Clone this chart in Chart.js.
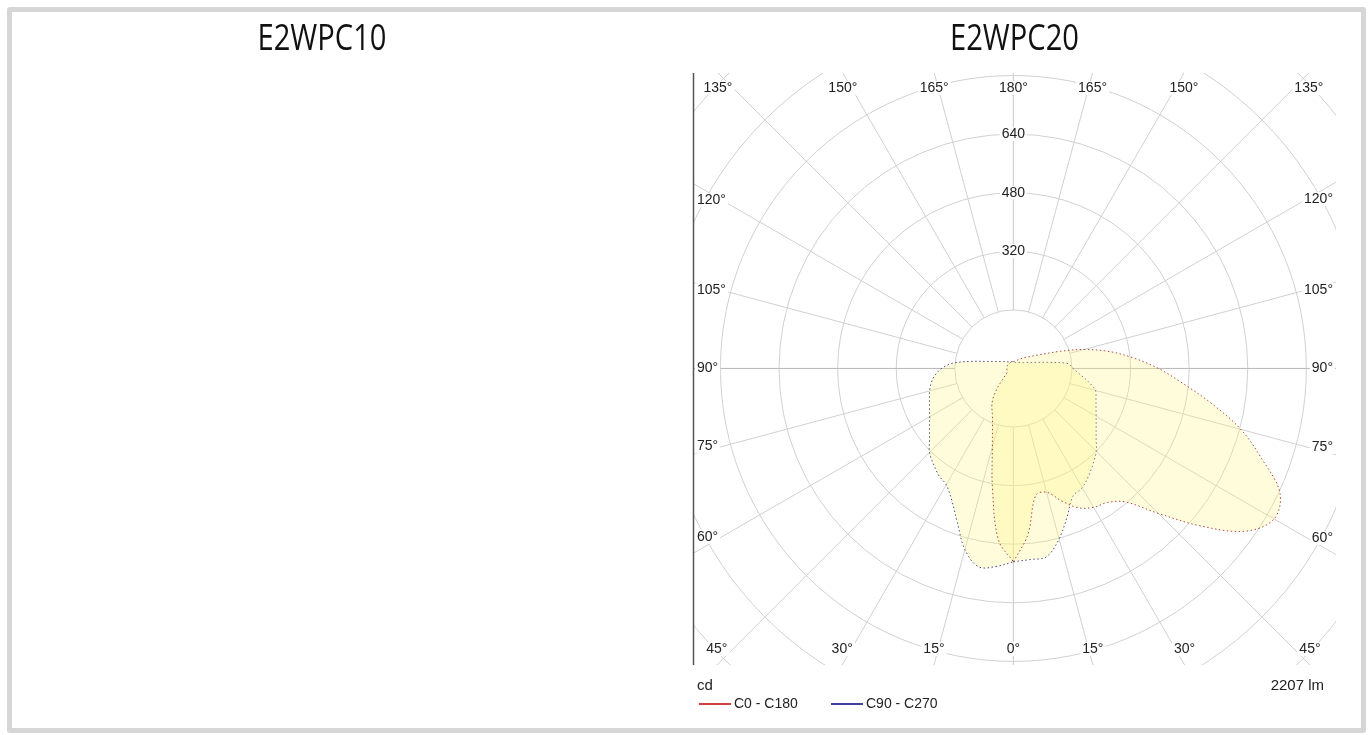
<!DOCTYPE html>
<html>
<head>
<meta charset="utf-8">
<script src="https://cdn.jsdelivr.net/npm/chart.js@4.4.1/dist/chart.umd.min.js"></script>
<style>
html, body { margin: 0; padding: 0; background: #fff; }
#frame { position: absolute; left: 7px; top: 7px; width: 1349px; height: 716px; border: 5px solid #d6d6d6; border-radius: 3px; }
#wrap { position: absolute; left: 0; top: 0; width: 1369px; height: 735px; }
</style>
</head>
<body>
<div id="frame"></div>
<div id="wrap"><canvas id="ldc" width="1369" height="735" style="width:1369px;height:735px"></canvas></div>
<script>
// gamma angle from nadir (deg) and intensity (cd) for each half plane
var GAMMA = [0, 5, 10, 15, 20, 25, 30, 35, 40, 45, 50, 55, 60, 65, 70, 75, 80, 85, 90,
             95, 100, 105, 110, 115, 120, 125, 130, 135, 140, 145, 150, 155, 160, 165, 170, 175, 180];
var C0   = [528, 455, 352, 350, 385, 420, 438, 447, 476, 560, 670, 775, 822, 803, 722, 643, 549, 464, 396,
            329, 266, 200, 138, 95, 72, 57, 48, 42, 36, 31, 28, 25, 23, 21, 20, 19, 19];
var C180 = [528, 470, 330, 222, 167, 136, 118, 95, 65, 40, 28, 22, 19, 18, 18, 18, 18, 18, 18,
            18, 18, 18, 18, 18, 18, 18, 18, 18, 18, 18, 18, 18, 18, 18, 18, 18, 19];
var C90  = [528, 524, 522, 482, 430, 385, 376, 358, 339, 320, 295, 276, 261, 249, 240, 232, 208, 182, 163,
            150, 95, 64, 48, 38, 32, 28, 25, 23, 21, 19, 18, 17, 17, 17, 17, 17, 17];
var C270 = [528, 543, 550, 512, 448, 398, 367, 356, 340, 324, 299, 280, 264, 253, 244, 237, 228, 215, 196,
            166, 112, 74, 56, 45, 38, 33, 29, 27, 24, 22, 21, 20, 20, 19, 19, 19, 17];

var RINGS = [160, 320, 480, 640, 800, 960, 1120];
var RING_LABELS = [320, 480, 640];
var ANGLE_TICKS = [0, 15, 30, 45, 60, 75, 90, 105, 120, 135, 150, 165, 180];
var PLANES = ['C0 - C180', 'C90 - C270'];
var TITLES = ['E2WPC10', 'E2WPC20'];
var UNIT = 'cd';
var FLUX = '2207 lm';

// visible window of the diagram, in cd
var X_MIN = -875, X_MAX = 881, Y_MIN = -810, Y_MAX = 807;

function planePoints(right, left) {
    var pts = [];
    for (var i = 0; i < GAMMA.length; i++) {
        var g = GAMMA[i] * Math.PI / 180;
        pts.push({x: right[i] * Math.sin(g), y: -right[i] * Math.cos(g)});
    }
    for (var j = GAMMA.length - 2; j >= 0; j--) {
        var h = GAMMA[j] * Math.PI / 180;
        pts.push({x: -left[j] * Math.sin(h), y: -left[j] * Math.cos(h)});
    }
    return pts;
}

var LABEL_FONT = '14px "Liberation Sans", Arial, sans-serif';

var polarGrid = {
    id: 'polarGrid',
    beforeDatasetsDraw: function (chart) {
        var c = chart.ctx, a = chart.chartArea;
        var cx = chart.scales.x.getPixelForValue(0), cy = chart.scales.y.getPixelForValue(0);
        var k = chart.scales.x.getPixelForValue(1) - cx;
        c.save();
        c.beginPath();
        c.rect(a.left, a.top, a.right - a.left, a.bottom - a.top);
        c.clip();
        c.lineWidth = 1;
        c.strokeStyle = '#d0d0d0';
        RINGS.forEach(function (r) {
            c.beginPath();
            c.arc(cx, cy, r * k, 0, Math.PI * 2);
            c.stroke();
        });
        ANGLE_TICKS.forEach(function (g) {
            [1, -1].forEach(function (side) {
                var t = g * Math.PI / 180;
                var px = side * Math.sin(t), py = Math.cos(t);
                c.strokeStyle = g === 90 ? '#b8b8b8' : '#d0d0d0';
                c.beginPath();
                c.moveTo(cx + px * RINGS[0] * k, cy + py * RINGS[0] * k);
                c.lineTo(cx + px * 2000 * k, cy + py * 2000 * k);
                c.stroke();
            });
        });
        c.restore();
    },
    afterDatasetsDraw: function (chart) {
        var c = chart.ctx, a = chart.chartArea;
        var cx = chart.scales.x.getPixelForValue(0), cy = chart.scales.y.getPixelForValue(0);
        var k = chart.scales.x.getPixelForValue(1) - cx;
        c.save();
        c.font = LABEL_FONT;
        c.textAlign = 'center';
        c.textBaseline = 'middle';

        function boxText(txt, x, y) {
            var w = c.measureText(txt).width;
            c.fillStyle = '#fff';
            c.fillRect(x - w / 2 - 2, y - 7, w + 4, 14);
            c.fillStyle = '#222';
            c.fillText(txt, x, y);
        }

        RING_LABELS.forEach(function (r) {
            boxText(String(r), cx, cy - r * k);
        });

        var inset = 29;
        ANGLE_TICKS.forEach(function (g) {
            [1, -1].forEach(function (side) {
                if (side < 0 && (g === 0 || g === 180)) return;
                var t = g * Math.PI / 180;
                var px = side * Math.sin(t), py = Math.cos(t);
                var tx = Math.abs(px) < 1e-9 ? Infinity : (px > 0 ? a.right - cx : cx - a.left) / Math.abs(px);
                var ty = Math.abs(py) < 1e-9 ? Infinity : (py > 0 ? a.bottom - cy : cy - a.top) / Math.abs(py);
                var txt = g + '\u00b0';
                var w = c.measureText(txt).width;
                var lx, ly;
                if (ty <= tx) {
                    lx = cx + px * ty;
                    ly = py > 0 ? a.bottom - 16 : a.top + 15;
                } else {
                    var ti = ((px > 0 ? a.right - cx : cx - a.left) - inset) / Math.abs(px);
                    lx = cx + px * tx;
                    ly = cy + py * ti;
                }
                lx = Math.max(a.left + 4 + w / 2, Math.min(a.right - 3 - w / 2, lx));
                ly = Math.max(a.top + 15, Math.min(a.bottom - 16, ly));
                boxText(txt, lx, ly);
            });
        });

        // left axis line
        c.strokeStyle = '#555';
        c.lineWidth = 1.5;
        c.beginPath();
        c.moveTo(a.left + 0.5, a.top);
        c.lineTo(a.left + 0.5, a.bottom);
        c.stroke();
        c.restore();
    }
};

var captions = {
    id: 'captions',
    afterDraw: function (chart) {
        var c = chart.ctx, a = chart.chartArea;
        c.save();
        // panel titles
        c.fillStyle = '#111';
        c.font = '36px "Open Sans", sans-serif';
        c.textAlign = 'center';
        c.textBaseline = 'alphabetic';
        [[322, TITLES[0]], [(a.left + a.right) / 2, TITLES[1]]].forEach(function (t) {
            c.save();
            c.translate(t[0], 50);
            c.scale(0.81, 1);
            c.fillText(t[1], 0, 0);
            c.restore();
        });
        // unit and flux
        c.fillStyle = '#222';
        c.font = '15px "Liberation Sans", Arial, sans-serif';
        c.textAlign = 'left';
        c.fillText(UNIT, a.left + 4, 690);
        c.textAlign = 'right';
        c.fillText(FLUX, a.right - 12, 690);
        // legend
        c.font = LABEL_FONT;
        c.textAlign = 'left';
        c.textBaseline = 'middle';
        var x = a.left + 6;
        chart.data.datasets.forEach(function (ds) {
            c.strokeStyle = ds.legendColor;
            c.lineWidth = 1.5;
            c.beginPath();
            c.moveTo(x, 704);
            c.lineTo(x + 32, 704);
            c.stroke();
            c.fillStyle = '#222';
            c.fillText(ds.label, x + 35, 704);
            x += 132;
        });
        c.restore();
    }
};

var ctx = document.getElementById('ldc').getContext('2d');
var ldc = new Chart(ctx, {
    type: 'scatter',
    data: {
        datasets: [{
            label: PLANES[0],
            data: planePoints(C0, C180),
            showLine: true,
            fill: 'shape',
            backgroundColor: 'rgba(255, 244, 125, 0.28)',
            borderColor: 'rgba(150, 30, 30, 0.8)',
            legendColor: '#c00000',
            borderWidth: 1,
            borderDash: [1.5, 2.5],
            pointRadius: 0,
            tension: 0.35
        }, {
            label: PLANES[1],
            data: planePoints(C90, C270),
            showLine: true,
            fill: 'shape',
            backgroundColor: 'rgba(255, 244, 125, 0.28)',
            borderColor: 'rgba(30, 30, 120, 0.8)',
            legendColor: '#000080',
            borderWidth: 1,
            borderDash: [1.5, 2.5],
            pointRadius: 0,
            tension: 0.35
        }]
    },
    options: {
        responsive: false,
        animation: false,
        layout: {padding: {left: 693, top: 73, right: 33, bottom: 70}},
        scales: {
            x: {type: 'linear', min: X_MIN, max: X_MAX, display: false},
            y: {type: 'linear', min: Y_MIN, max: Y_MAX, display: false}
        },
        plugins: {
            legend: {display: false},
            tooltip: {enabled: false}
        }
    },
    plugins: [polarGrid, captions]
});
</script>
</body>
</html>
